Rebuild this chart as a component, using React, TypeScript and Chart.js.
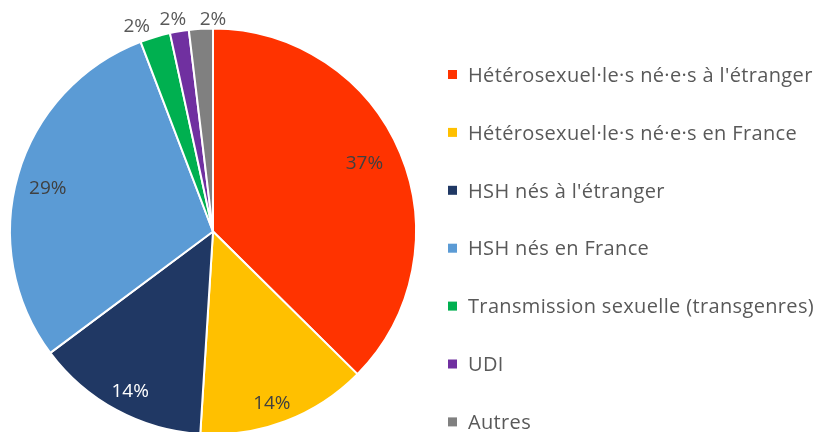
import React, { useEffect, useRef } from "react";
import { Chart, registerables } from "chart.js";
Chart.register(...registerables);

const categories = [
  "Hétérosexuel·le·s né·e·s à l'étranger",
  "Hétérosexuel·le·s né·e·s en France",
  "HSH nés à l'étranger",
  "HSH nés en France",
  "Transmission sexuelle (transgenres)",
  "UDI",
  "Autres",
];
const shares = [37.4, 13.6, 13.8, 29.4, 2.4, 1.5, 1.9];
const sliceColors = ["#FF3300", "#FFC000", "#203864", "#5B9BD5", "#00B050", "#7030A0", "#808080"];

// label styling (not data)
const labelInk = ["#404040", "#404040", "#FFFFFF", "#404040", "#595959", "#595959", "#595959"];
const labelRadius = [0.82, 0.887, 0.88, 0.843, 1.085, 1.07, 1.052];
const labelAngleShift = [-1.9, 1.8, -0.8, -1.1, -3.7, -1.1, 3.4];

const FONT = "'Open Sans', Lato, sans-serif";

const overlay = {
  id: "overlay",
  afterDatasetsDraw(chart: any) {
    const ctx = chart.ctx;
    const meta = chart.getDatasetMeta(0);
    const ds = chart.data.datasets[0];
    const total = (ds.data as number[]).reduce((a, b) => a + b, 0);
    ctx.save();
    ctx.font = `19px ${FONT}`;
    ctx.textAlign = "center";
    ctx.textBaseline = "alphabetic";
    meta.data.forEach((arc: any, i: number) => {
      const p = arc.getProps(["x", "y", "startAngle", "endAngle", "outerRadius"], true);
      const mid = (p.startAngle + p.endAngle) / 2 + (labelAngleShift[i] * Math.PI) / 180;
      const r = p.outerRadius * labelRadius[i];
      const lx = p.x + Math.cos(mid) * r;
      const ly = p.y + Math.sin(mid) * r;
      const pct = Math.round((ds.data[i] / total) * 100) + "%";
      ctx.fillStyle = labelInk[i];
      ctx.fillText(pct, lx, ly + 7);
    });
    // legend
    const labels = chart.data.labels as string[];
    const x0 = 448;
    const y0 = 74.5;
    const step = 57.9;
    ctx.textAlign = "left";
    ctx.font = `20px ${FONT}`;
    try {
      (ctx as any).letterSpacing = "0.35px";
    } catch (e) {}
    labels.forEach((lab, i) => {
      const y = y0 + i * step;
      ctx.fillStyle = (ds.backgroundColor as string[])[i];
      ctx.fillRect(x0, y - 4.5, 9, 9);
      ctx.fillStyle = "#595959";
      ctx.fillText(lab, x0 + 20, y + 7.2);
    });
    ctx.restore();
  },
};

export default function App() {
  const ref = useRef<HTMLCanvasElement>(null);
  useEffect(() => {
    if (!ref.current) return;
    const chart = new Chart(ref.current, {
      type: "pie",
      data: {
        labels: categories,
        datasets: [
          {
            data: shares,
            backgroundColor: sliceColors,
            borderColor: "#FFFFFF",
            borderWidth: 2,
          },
        ],
      },
      options: {
        responsive: false,
        animation: false,
        devicePixelRatio: 1,
        layout: { padding: { left: 9, top: 27, right: 399, bottom: 4 } },
        plugins: {
          legend: { display: false },
          tooltip: { enabled: false },
        },
      },
      plugins: [overlay],
    });
    return () => chart.destroy();
  }, []);
  return (
    <div
      style={{
        position: "absolute",
        left: 0,
        top: 0,
        width: 816,
        height: 432,
        overflow: "hidden",
        background: "#FFFFFF",
      }}
    >
      <canvas ref={ref} width={816} height={440} style={{ width: 816, height: 440, display: "block" }} />
    </div>
  );
}
